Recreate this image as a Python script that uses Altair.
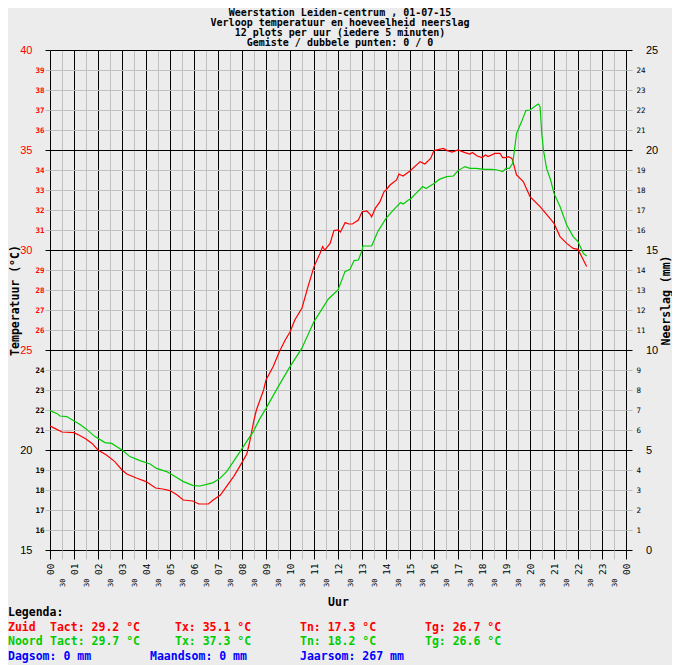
import altair as alt
import pandas as pd

# ---------------- data ----------------
stations = ["Zuid", "Noord"]
station_colors = ["#ff0000", "#00cc00"]

hours_zuid = [0.0, 0.2, 0.5, 1.0, 1.2, 1.5, 1.75, 2.0, 2.35, 2.7, 3.0, 3.2, 3.6, 4.0, 4.4, 4.7,
              5.0, 5.3, 5.55, 5.95, 6.2, 6.6, 6.8, 7.1, 7.35, 7.65, 7.9, 8.2, 8.3, 8.4, 8.5, 8.6,
              8.75, 8.9, 9.0, 9.3, 9.55, 9.8, 10.0, 10.2, 10.5, 10.75, 11.0, 11.25, 11.36, 11.45,
              11.67, 11.83, 12.0, 12.1, 12.3, 12.45, 12.6, 12.85, 13.0, 13.2, 13.33, 13.4, 13.55,
              13.75, 13.92, 14.0, 14.17, 14.44, 14.54, 14.71, 15.0, 15.42, 15.62, 15.86, 16.0,
              16.39, 16.55, 16.76, 17.0, 17.29, 17.5, 17.6, 17.8, 18.0, 18.15, 18.25, 18.54,
              18.75, 18.86, 19.0, 19.1, 19.25, 19.44, 19.72, 20.0, 20.42, 20.83, 21.0, 21.25,
              21.53, 21.8, 22.0, 22.15, 22.36]
temp_zuid = [21.2, 21.08, 20.9, 20.87, 20.75, 20.55, 20.33, 20.0, 19.75, 19.42, 19.0, 18.8, 18.6,
             18.42, 18.1, 18.05, 17.97, 17.75, 17.5, 17.45, 17.3, 17.3, 17.5, 17.75, 18.17, 18.67,
             19.17, 19.8, 20.3, 20.9, 21.5, 22.0, 22.5, 23.0, 23.5, 24.17, 24.9, 25.5, 25.9, 26.5,
             27.1, 28.17, 29.17, 29.83, 30.17, 30.0, 30.33, 30.97, 31.0, 30.9, 31.37, 31.3, 31.3,
             31.5, 31.9, 31.95, 31.8, 31.65, 32.08, 32.42, 32.92, 33.0, 33.25, 33.5, 33.8, 33.7,
             33.95, 34.42, 34.3, 34.58, 34.97, 35.08, 34.97, 34.9, 35.0, 34.87, 34.8, 34.88, 34.7,
             34.62, 34.75, 34.67, 34.83, 34.83, 34.62, 34.62, 34.67, 34.58, 33.75, 33.42, 32.67,
             32.17, 31.58, 31.33, 30.67, 30.33, 30.08, 30.03, 29.67, 29.17]

hours_noord = [0.0, 0.28, 0.42, 0.7, 0.97, 1.25, 1.53, 1.875, 2.29, 2.57, 3.0, 3.33, 3.75, 4.17,
               4.44, 4.86, 5.21, 5.56, 5.97, 6.25, 6.53, 6.8, 7.08, 7.36, 7.64, 7.92, 8.19, 8.47,
               8.75, 9.0, 9.51, 10.0, 10.49, 11.0, 11.6, 12.0, 12.29, 12.5, 12.67, 12.85, 13.0,
               13.04, 13.4, 13.65, 14.0, 14.37, 14.61, 14.72, 14.93, 15.0, 15.25, 15.53, 15.67,
               15.8, 16.0, 16.22, 16.53, 16.81, 17.0, 17.29, 17.5, 17.75, 18.1, 18.4, 18.65, 18.86,
               19.0, 19.14, 19.28, 19.38, 19.44, 19.65, 19.83, 20.0, 20.28, 20.35, 20.42, 20.49,
               20.56, 20.69, 20.86, 21.0, 21.25, 21.53, 21.8, 22.0, 22.22, 22.36]
temp_noord = [21.97, 21.83, 21.7, 21.67, 21.47, 21.28, 21.03, 20.67, 20.37, 20.33, 20.0, 19.67,
              19.47, 19.3, 19.08, 18.92, 18.67, 18.42, 18.22, 18.2, 18.28, 18.37, 18.58, 18.92,
              19.42, 19.92, 20.42, 20.92, 21.58, 22.08, 23.17, 24.17, 25.08, 26.42, 27.55, 28.0,
              28.92, 29.03, 29.47, 29.5, 29.97, 30.2, 30.2, 30.9, 31.58, 32.08, 32.37, 32.3, 32.5,
              32.53, 32.83, 33.17, 33.07, 33.17, 33.33, 33.53, 33.67, 33.7, 33.97, 34.17, 34.08,
              34.08, 34.03, 34.03, 34.0, 33.92, 34.08, 34.08, 34.33, 35.25, 35.83, 36.42, 36.97,
              37.0, 37.25, 37.3, 37.17, 35.83, 35.0, 34.08, 33.5, 32.83, 32.17, 31.25, 30.67,
              30.42, 29.83, 29.7]

title_lines = [
    "Weerstation Leiden-centrum , 01-07-15",
    "Verloop temperatuur en hoeveelheid neerslag",
    "12 plots per uur (iedere 5 minuten)",
    "Gemiste / dubbele punten: 0 / 0",
]

stat_names = ["Tact", "Tx", "Tn", "Tg"]
zuid_stats = [29.2, 35.1, 17.3, 26.7]
noord_stats = [29.7, 37.3, 18.2, 26.6]
sum_names = ["Dagsom", "Maandsom", "Jaarsom"]
sum_values = [0, 0, 267]

x_ticks = [h / 2 for h in range(49)]
temp_ticks = list(range(15, 41))
rain_ticks = list(range(0, 26))

# ---------------- build ----------------
df = pd.concat([
    pd.DataFrame({"uur": hours_zuid, "temp": temp_zuid, "station": stations[0]}),
    pd.DataFrame({"uur": hours_noord, "temp": temp_noord, "station": stations[1]}),
])

MONO = "DejaVu Sans Mono"
SANS = "Liberation Sans"
GRAY = "#c0c0c0"
BLUE = "#0000ff"
hour_test = "datum.value % 1 == 0"
major5 = "datum.value % 5 == 0"


def cond(test, a, b):
    return {"condition": {"test": test, "value": a}, "value": b}


x_axis = alt.Axis(
    values=x_ticks, grid=True, gridColor=cond(hour_test, "black", GRAY), gridWidth=1,
    tickColor=cond(hour_test, "black", GRAY), tickSize=9, tickWidth=1, domain=False,
    labelAngle=270, labelAlign="right", labelBaseline="middle",
    labelPadding=cond(hour_test, 4, 19),
    labelOverlap=False, labelFlush=False,
    labelExpr="datum.value % 1 == 0 ? ((datum.value % 24) < 10 ? '0' : '') + (datum.value % 24) : '30'",
    labelFont=MONO, labelFontSize=cond(hour_test, 9.5, 7), labelColor="black",
    title="Uur", titleFont=MONO, titleFontWeight="bold", titleFontSize=11.5,
    titleColor="black", titleX=288, titleY=52, titleBaseline="middle", titleAlign="center",
)

y_axis = alt.Axis(
    orient="left", values=temp_ticks, grid=True, gridColor=cond(major5, "black", GRAY),
    gridWidth=1, tickColor=cond(major5, "black", GRAY), tickSize=5, tickWidth=1,
    domain=False, labelPadding=cond(major5, 13, 1), labelOverlap=False, labelFlush=False,
    format="d",
    labelFont=cond(major5, SANS, MONO), labelFontSize=cond(major5, 11, 7.5),
    labelFontWeight=cond(major5, "normal", "bold"),
    labelColor=cond("datum.value >= 25", "#ff0000", "black"),
    title="Temperatuur (°C)", titleFont=MONO, titleFontWeight="bold", titleFontSize=11.5,
    titleColor="black", titleAngle=270, titleX=-35, titleY=250,
    titleBaseline="middle", titleAlign="center",
)

r_axis = alt.Axis(
    orient="right", values=rain_ticks, grid=False,
    tickColor=cond(major5, "black", GRAY), tickSize=6, tickWidth=1, domain=False,
    labelPadding=cond(major5, 13.5, 4), labelOverlap=False, labelFlush=False, format="d",
    labelFont=cond(major5, SANS, MONO), labelFontSize=cond(major5, 11, 7.5),
    labelColor="black",
    title="Neerslag (mm)", titleFont=MONO, titleFontWeight="bold", titleFontSize=11.5,
    titleColor="black", titleAngle=270, titleX=40, titleY=250,
    titleBaseline="middle", titleAlign="center",
)

lines = alt.Chart(df).mark_line(strokeWidth=1.2).encode(
    x=alt.X("uur:Q", scale=alt.Scale(domain=[0, 24], nice=False, zero=False), axis=x_axis),
    y=alt.Y("temp:Q", scale=alt.Scale(domain=[15, 40], nice=False, zero=False), axis=y_axis),
    color=alt.Color("station:N", scale=alt.Scale(domain=stations, range=station_colors),
                    legend=None),
)

rain = alt.Chart(pd.DataFrame({"neerslag": [sum_values[0]]})).mark_point(opacity=0).encode(
    y=alt.Y("neerslag:Q", scale=alt.Scale(domain=[0, 25], nice=False), axis=r_axis),
)

# view origin sits at page (50, 50)
OX, OY = 50, 50


def txt(s, px, py, color="black", align="left", size=11.5):
    return alt.Chart(pd.DataFrame({"t": [s]})).mark_text(
        font=MONO, fontWeight="bold", fontSize=size, color=color, align=align,
        baseline="alphabetic",
    ).encode(text="t:N", x=alt.value(px - OX), y=alt.value(py - OY))


texts = []
for line, py in zip(title_lines, [16.3, 26.3, 36.3, 46.3]):
    texts.append(txt(line, 340, py, align="center", size=10))

texts.append(txt("Legenda:", 8, 616))
stat_x = [50, 175, 300, 425]
for name, vals, color, py in [(stations[0], zuid_stats, station_colors[0], 630.5),
                              (stations[1], noord_stats, station_colors[1], 645)]:
    texts.append(txt(name, 8, py, color))
    for sn, v, px in zip(stat_names, vals, stat_x):
        texts.append(txt(f"{sn}: {v:.1f} °C", px, py, color))
for sn, v, px in zip(sum_names, sum_values, [8, 150, 300]):
    texts.append(txt(f"{sn}: {v} mm", px, 659.5, BLUE))

chart = alt.layer(lines, rain, *texts).resolve_scale(y="independent").properties(
    width=576, height=500,
    autosize=alt.AutoSizeParams(type="none"),
    padding={"left": 42, "top": 42, "right": 46, "bottom": 115},
    background="#ececec",
).configure_view(strokeWidth=0)

chart.save("out.html", embed_options={"renderer": "svg", "actions": False})
